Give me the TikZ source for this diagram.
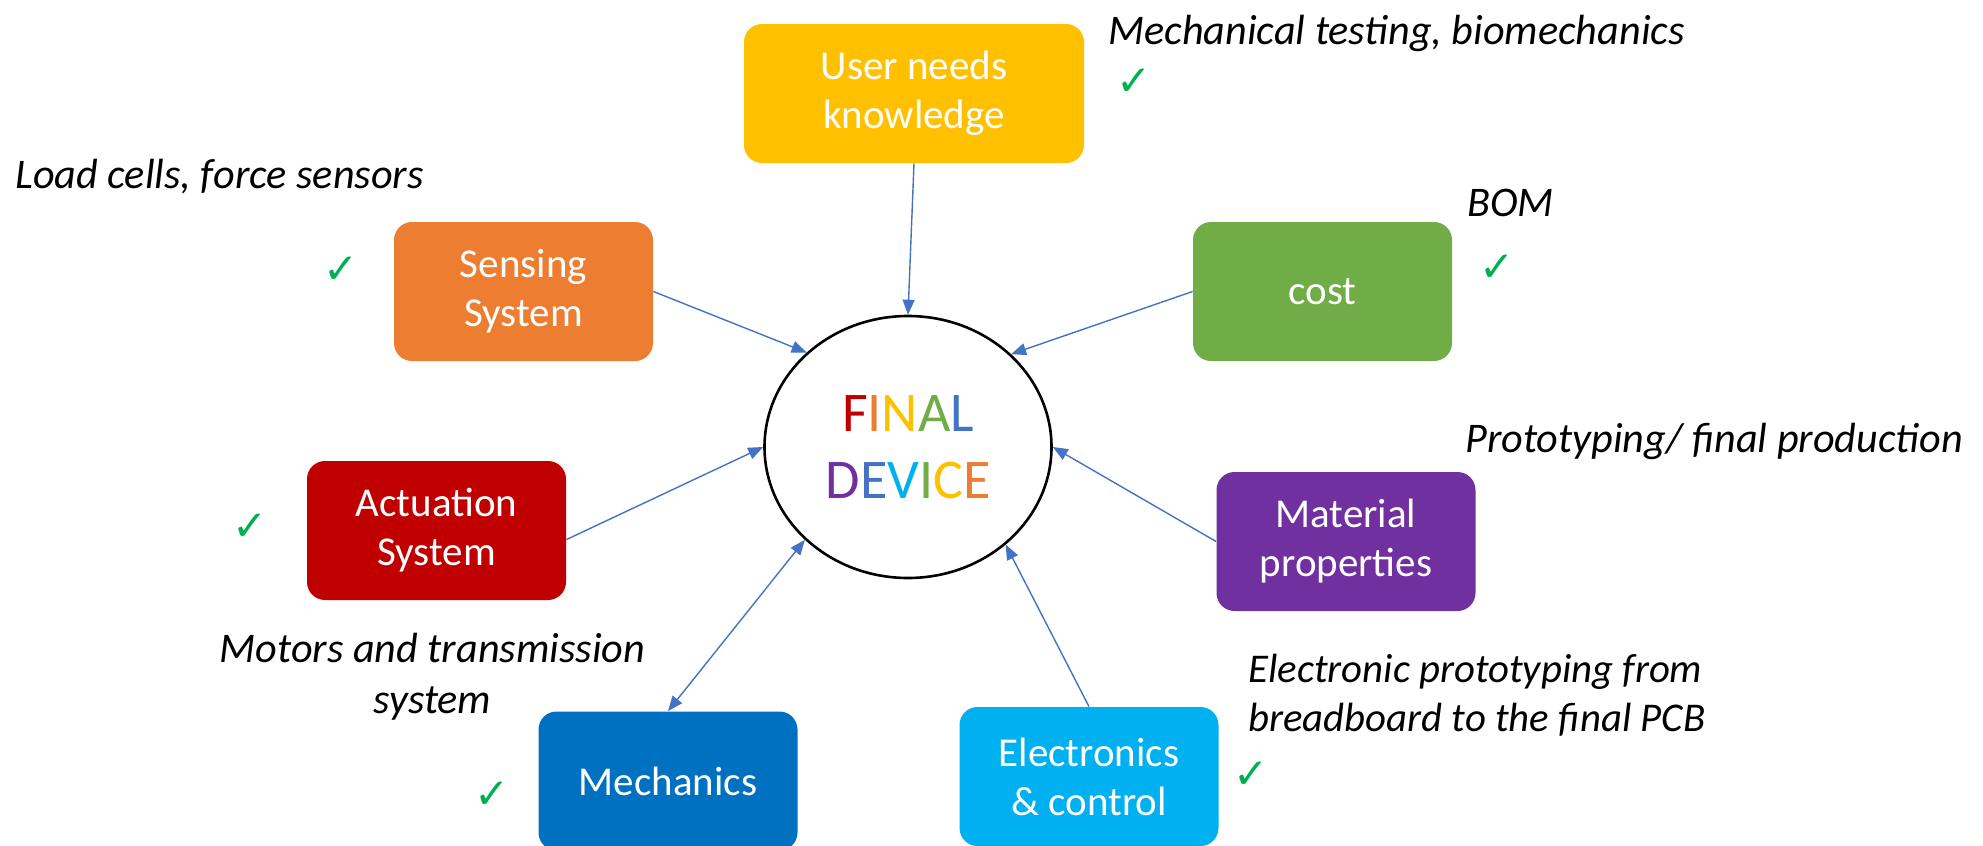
\documentclass[tikz,border=0pt]{standalone}
\usepackage{fontspec}
\setmainfont{Carlito}
\newfontfamily\symfont{DejaVu Sans}
\usetikzlibrary{arrows.meta, shapes.geometric, positioning}

\definecolor{usergold}{HTML}{FFC000}
\definecolor{senseorange}{HTML}{ED7D31}
\definecolor{costgreen}{HTML}{70AD47}
\definecolor{actred}{HTML}{C00000}
\definecolor{matpurple}{HTML}{7030A0}
\definecolor{mechblue}{HTML}{0070C0}
\definecolor{elecblue}{HTML}{00B0F0}
\definecolor{linkblue}{HTML}{4472C4}
\definecolor{tickgreen}{HTML}{00B050}

\tikzstyle{topicbox} = [rectangle, rounded corners=9pt, minimum width=129.5pt,
    minimum height=69.5pt, inner sep=0pt, text=white, align=center,
    font=\fontsize{20.5}{24.5}\selectfont]
\tikzstyle{devicenode} = [ellipse, draw=black, line width=1.3pt, minimum width=143.5pt,
    minimum height=131pt, inner sep=0pt, align=center,
    font=\fontsize{28}{33.5}\selectfont]
\tikzstyle{note} = [inner sep=0pt, font=\fontsize{21.1}{25.5}\selectfont\itshape]
\tikzstyle{tick} = [inner sep=0pt, text=tickgreen, font=\symfont\fontsize{21}{21}\selectfont]
\tikzstyle{link} = [draw=linkblue, line width=0.7pt, -{Triangle[length=7.5pt,width=6pt]}]

\begin{document}
\begin{tikzpicture}[x=0.5pt, y=-0.5pt]
    \useasboundingbox (0,0) rectangle (1983,846);

    % centre
    \node[devicenode] (final) at (908,447) {%
      {\color{actred}F}{\color{senseorange}I}{\color{usergold}N}{\color{costgreen}A}{\color{linkblue}L}\\
      {\color{matpurple}D}{\color{linkblue}E}{\color{elecblue}V}{\color{costgreen}I}{\color{usergold}C}{\color{senseorange}E}};

    % topics
    \node[topicbox, fill=usergold, minimum width=170pt] (user) at (914,93.5) {User needs\\knowledge};
    \node[topicbox, fill=senseorange] (sensing) at (523.5,291.5) {Sensing\\System};
    \node[topicbox, fill=costgreen] (cost) at (1322.5,291.5) {cost};
    \node[topicbox, fill=actred] (actuation) at (436.5,530.5) {Actuation\\System};
    \node[topicbox, fill=matpurple] (material) at (1346,541.5) {Material\\properties};
    \node[topicbox, fill=mechblue] (mechanics) at (668,781) {Mechanics};
    \node[topicbox, fill=elecblue] (electronics) at (1089,776.5) {Electronics\\\& control};

    % notes
    \node[note, anchor=base west] (usernote) at (1108,45) {Mechanical testing, biomechanics};
    \node[note, anchor=base west] (sensenote) at (15,188) {Load cells, force sensors};
    \node[note, anchor=base west] (costnote) at (1467,216) {BOM};
    \node[note, anchor=base west] (matnote) at (1465,452) {Prototyping/ final production};
    \node[note, anchor=base, align=center] (actnote) at (432.5,713) {Motors and transmission\\system};
    \node[note, anchor=base west, align=left, font=\fontsize{20.4}{24.5}\selectfont\itshape] (elecnote) at (1248,731) {Electronic prototyping from\\breadboard to the final PCB};

    % ticks
    \node[tick] (usertick) at (1134,82) {✓};
    \node[tick] (sensetick) at (341,270) {✓};
    \node[tick] (costtick) at (1497,268) {✓};
    \node[tick] (acttick) at (250,527) {✓};
    \node[tick] (mechtick) at (492,795) {✓};
    \node[tick] (electick) at (1251,775) {✓};

    % links
    \draw[link] (user.south) -- (final.north);
    \draw[link] (sensing.east) -- (final.137.6);
    \draw[link] (cost.west) -- (final.42);
    \draw[link] (actuation.-4) -- (final.west);
    \draw[link] (material.west) -- (final.east);
    \draw[link] (electronics.north) -- (final.-45);
    \draw[link, {Triangle[length=7.5pt,width=6pt]}-{Triangle[length=7.5pt,width=6pt]}] (mechanics.north) -- (final.222.6);
\end{tikzpicture}
\end{document}
